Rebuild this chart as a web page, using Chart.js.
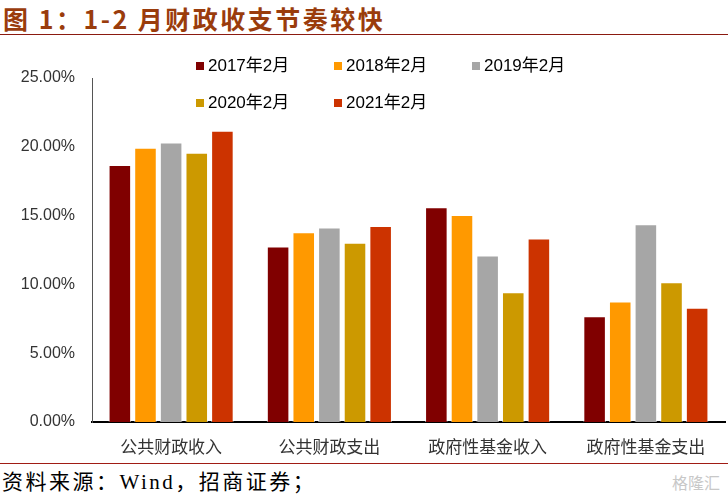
<!DOCTYPE html>
<html lang="zh">
<head>
<meta charset="UTF-8">
<title>图 1：1-2 月财政收支节奏较快</title>
<script src="https://cdn.jsdelivr.net/npm/chart.js"></script>
<style>
  html, body { margin: 0; padding: 0; background: #fff; }
  #page { position: relative; width: 728px; height: 497px; overflow: hidden; }
  #title { position: absolute; left: 3px; top: 0px; font: bold 25px "Noto Sans CJK SC", sans-serif; color: #9a3c0c; letter-spacing: 2.5px; white-space: nowrap; }
  #rule1 { position: absolute; left: 0; top: 34px; width: 728px; height: 0; border-top: 1.5px solid #8b1a10; }
  #rule2 { position: absolute; left: 0; top: 463px; width: 728px; height: 0; border-top: 1.5px solid #a01c14; }
  #source { position: absolute; left: 2px; top: 465px; font: 21px "Liberation Serif", "Noto Sans CJK SC", serif; color: #000; letter-spacing: 2.5px; white-space: nowrap; }
  #mark { position: absolute; right: 8px; top: 470px; font: 16px "Noto Sans CJK SC", sans-serif; color: #c8c8c8; }
  #wrap { position: absolute; left: 0; top: 40px; width: 728px; height: 420px; }
</style>
</head>
<body>
<div id="page">
  <div id="title">图 1：1-2 月财政收支节奏较快</div>
  <div id="rule1"></div>
  <div id="wrap"><canvas id="myChart" width="728" height="420"></canvas></div>
  <div id="rule2"></div>
  <div id="source">资料来源：Wind，招商证券；</div>
  <div id="mark">格隆汇</div>
</div>
<script>
const categories = ['公共财政收入', '公共财政支出', '政府性基金收入', '政府性基金支出'];
const seriesNames = ['2017年2月', '2018年2月', '2019年2月', '2020年2月', '2021年2月'];
const feb2017 = [18.67, 12.75, 15.61, 7.68];
const feb2018 = [19.93, 13.79, 15.05, 8.75];
const feb2019 = [20.31, 14.13, 12.10, 14.38];
const feb2020 = [19.56, 13.02, 9.43, 10.16];
const feb2021 = [21.16, 14.25, 13.33, 8.31];
const yTicks = [0, 5, 10, 15, 20, 25];
const colors = ['#800000', '#ff9900', '#a6a6a6', '#cc9900', '#cc3300'];

const allSeries = [feb2017, feb2018, feb2019, feb2020, feb2021];

// legend sits inside the plot, two rows
const legendBox = {
  id: 'legendBox',
  afterDraw(chart) {
    const ctx = chart.ctx;
    const cols = [196, 334, 472];
    const rows = [26, 63];
    ctx.save();
    ctx.font = '17px "Liberation Sans", Arial, "Noto Sans CJK SC"';
    ctx.textBaseline = 'middle';
    seriesNames.forEach((name, i) => {
      const x = cols[i % 3], y = rows[Math.floor(i / 3)];
      ctx.fillStyle = colors[i];
      ctx.fillRect(x, y - 4, 8, 8);
      ctx.fillStyle = '#000';
      ctx.fillText(name, x + 12, y);
    });
    ctx.restore();
  }
};

const ctx = document.getElementById('myChart').getContext('2d');
new Chart(ctx, {
  type: 'bar',
  data: {
    labels: categories,
    datasets: allSeries.map((vals, i) => ({
      label: seriesNames[i],
      data: vals,
      backgroundColor: colors[i],
      borderColor: 'rgba(255,255,255,0.6)',
      borderWidth: 1,
      barPercentage: 0.88,
      categoryPercentage: 0.81
    }))
  },
  options: {
    responsive: false,
    animation: false,
    layout: { padding: { top: 38, right: 3, left: 0, bottom: 0 } },
    plugins: { legend: { display: false }, tooltip: { enabled: false } },
    scales: {
      x: {
        grid: { display: false, drawTicks: false },
        border: { display: true, color: '#000', width: 2 },
        ticks: { padding: 14, color: '#333', font: { family: '"Noto Sans CJK SC"', size: 17 } },
        afterFit: s => { s.height = 38; }
      },
      y: {
        min: 0,
        max: 25,
        afterBuildTicks: s => { s.ticks = yTicks.map(v => ({ value: v })); },
        grid: { display: false, drawTicks: false },
        border: { display: true, color: '#555', width: 1 },
        ticks: {
          padding: 17,
          color: '#333',
          font: { family: '"Liberation Sans", Arial', size: 16 },
          callback: v => v.toFixed(2) + '%'
        },
        afterFit: s => { s.width = 92; }
      }
    }
  },
  plugins: [legendBox]
});
</script>
</body>
</html>
